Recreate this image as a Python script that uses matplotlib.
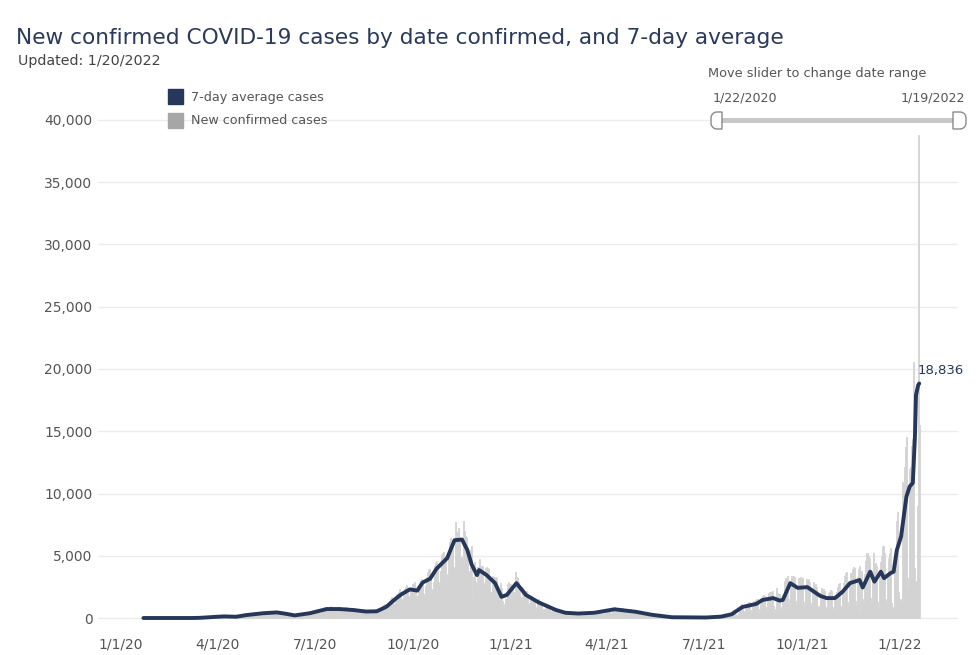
import numpy as np
import pandas as pd
import matplotlib
matplotlib.use("Agg")
import matplotlib.pyplot as plt
import matplotlib.dates as mdates
from matplotlib.patches import Rectangle, PathPatch
from matplotlib.path import Path

NAVY = "#263759"
BAR_GREY = "#d3d3d3"
LEGEND_GREY = "#a6a6a6"
TEXT_GREY = "#555555"

# Daily new confirmed cases, one row per week (Wed..Tue), starting 1/22/2020
start_date = "2020-01-22"
daily_cases = [
    [0, 0, 0, 0, 0, 0, 0], [0, 0, 0, 0, 0, 0, 0], [0, 1, 0, 0, 0, 0, 0],
    [0, 0, 0, 0, 0, 0, 0], [0, 0, 0, 0, 0, 0, 0], [0, 0, 0, 0, 0, 0, 0],
    [0, 0, 1, 0, 0, 2, 1], [2, 3, 8, 6, 5, 14, 25],
    [34, 49, 72, 42, 38, 60, 78], [95, 88, 107, 84, 62, 70, 127],
    [135, 150, 152, 127, 89, 80, 123], [110, 118, 160, 104, 77, 76, 117],
    [107, 104, 126, 107, 85, 80, 145], [215, 203, 320, 225, 170, 186, 217],
    [270, 298, 310, 327, 213, 248, 285], [346, 331, 388, 357, 298, 257, 368],
    [408, 384, 466, 375, 302, 295, 398], [460, 520, 488, 433, 334, 287, 380],
    [444, 496, 510, 397, 296, 276, 378], [348, 362, 345, 286, 207, 212, 300],
    [270, 248, 240, 196, 166, 160, 233], [262, 283, 306, 250, 190, 198, 301],
    [393, 415, 443, 385, 310, 322, 437], [510, 588, 622, 540, 401, 404, 553],
    [712, 754, 888, 704, 563, 575, 728], [856, 940, 892, 730, 555, 570, 840],
    [812, 920, 836, 740, 543, 562, 770], [780, 875, 855, 681, 523, 548, 720],
    [723, 840, 786, 606, 502, 512, 610], [650, 706, 650, 540, 448, 452, 572],
    [580, 632, 620, 512, 418, 408, 530], [640, 705, 722, 608, 520, 568, 720],
    [950, 1050, 1100, 860, 720, 690, 860],
    [1350, 1500, 1650, 1400, 1150, 1150, 1450],
    [1900, 2100, 2300, 1850, 1550, 1450, 1900],
    [2300, 2500, 2650, 2200, 1750, 1700, 2300],
    [2400, 2700, 2900, 2400, 1800, 1700, 2350],
    [2700, 3000, 3100, 2800, 1950, 1900, 2600],
    [3300, 3700, 3900, 3300, 2300, 2100, 2900],
    [4200, 4400, 4600, 4000, 2800, 2900, 3800],
    [5100, 5200, 5300, 4900, 3300, 3500, 5000],
    [6100, 6400, 6300, 5800, 4100, 4000, 7700],
    [6900, 6800, 7200, 6500, 4900, 4700, 7800],
    [7000, 6600, 6500, 5600, 3600, 3800, 5500],
    [5800, 1500, 3300, 4500, 2900, 2600, 4100],
    [4700, 4200, 4100, 4200, 2800, 2600, 4000],
    [4100, 4000, 3900, 3300, 2100, 2100, 3400],
    [3300, 3300, 3200, 2600, 1700, 1400, 2800],
    [2400, 1400, 600, 1100, 1500, 1500, 2700],
    [2900, 2700, 1500, 2500, 2100, 1900, 3700],
    [3300, 3200, 2900, 2600, 1700, 1500, 2500],
    [2300, 2100, 2200, 1800, 1200, 1000, 1700],
    [1800, 1700, 1600, 1300, 900, 800, 1400],
    [1500, 1400, 1300, 1100, 700, 600, 1100],
    [1100, 1050, 1000, 850, 550, 500, 900],
    [800, 780, 700, 620, 400, 380, 650], [560, 530, 500, 440, 300, 280, 430],
    [470, 460, 440, 390, 260, 250, 400], [430, 440, 420, 380, 250, 240, 380],
    [450, 470, 460, 400, 270, 260, 400], [500, 520, 510, 450, 300, 290, 420],
    [590, 620, 600, 530, 360, 350, 500], [720, 740, 720, 640, 420, 400, 580],
    [820, 860, 840, 700, 500, 460, 700], [780, 800, 780, 660, 480, 430, 620],
    [700, 720, 690, 600, 420, 380, 560], [600, 610, 580, 500, 340, 320, 460],
    [480, 480, 460, 400, 270, 250, 380], [350, 340, 330, 280, 190, 180, 270],
    [230, 220, 210, 180, 120, 110, 170], [130, 140, 110, 100, 60, 50, 80],
    [80, 75, 70, 60, 40, 35, 60], [65, 60, 58, 50, 30, 28, 50],
    [50, 52, 48, 40, 25, 22, 45], [52, 50, 46, 38, 24, 22, 48],
    [60, 58, 50, 30, 20, 25, 75], [90, 85, 80, 60, 40, 45, 90],
    [140, 150, 140, 90, 60, 75, 160], [300, 320, 310, 180, 120, 200, 360],
    [600, 650, 620, 350, 250, 420, 720],
    [1000, 1100, 1050, 550, 400, 750, 1150],
    [1200, 1300, 1250, 650, 450, 900, 1350],
    [1450, 1500, 1500, 750, 550, 1100, 1600],
    [1800, 1850, 1800, 900, 650, 1400, 2000],
    [2100, 2100, 2150, 1000, 700, 700, 2400],
    [2000, 1950, 1900, 900, 650, 1400, 1900],
    [3000, 3200, 3400, 1500, 1100, 2800, 3400],
    [3300, 3400, 3300, 1400, 1000, 2500, 3200],
    [3100, 3300, 3200, 1300, 900, 2600, 3100],
    [3000, 3100, 2900, 1200, 850, 2400, 2900],
    [2600, 2700, 2500, 1000, 700, 2000, 2400],
    [2200, 2300, 2200, 900, 650, 1700, 2000],
    [2100, 2250, 2200, 850, 600, 1600, 2100],
    [2500, 2700, 2800, 1000, 700, 2200, 2800],
    [3400, 3600, 3700, 1300, 900, 2900, 3600],
    [3900, 4100, 4000, 1400, 1000, 3300, 3900],
    [4200, 600, 3800, 1500, 1100, 3500, 4600],
    [5200, 5000, 4800, 1600, 1200, 3800, 5200],
    [4300, 4400, 4200, 1300, 900, 3300, 4500],
    [5000, 5800, 5200, 1500, 1000, 3600, 4800],
    [5200, 5600, 1200, 900, 800, 4100, 5400],
    [7800, 8500, 2100, 1500, 1200, 10900, 10800],
    [12100, 13700, 14500, 3200, 2500, 12000, 12100],
    [13800, 14400, 20600, 4000, 3000, 9000, 38800],
    [15500],
]

# 7-day average, read at the turning points of the line
avg_dates = [
    "2020-01-22", "2020-03-08", "2020-03-15", "2020-03-22", "2020-03-31",
    "2020-04-07", "2020-04-18", "2020-04-27", "2020-05-13", "2020-05-26",
    "2020-06-03", "2020-06-12", "2020-06-26", "2020-07-12", "2020-07-24",
    "2020-08-06", "2020-08-18", "2020-08-28", "2020-09-06", "2020-09-14",
    "2020-09-20", "2020-09-28", "2020-10-05", "2020-10-10", "2020-10-17",
    "2020-10-23", "2020-11-02", "2020-11-09", "2020-11-16", "2020-11-21",
    "2020-11-25", "2020-11-30", "2020-12-02", "2020-12-09", "2020-12-17",
    "2020-12-23", "2020-12-28", "2021-01-06", "2021-01-15", "2021-01-27",
    "2021-02-12", "2021-02-21", "2021-03-05", "2021-03-20", "2021-04-08",
    "2021-04-28", "2021-05-13", "2021-06-01", "2021-07-03", "2021-07-17",
    "2021-07-27", "2021-08-06", "2021-08-19", "2021-08-25", "2021-09-04",
    "2021-09-10", "2021-09-13", "2021-09-20", "2021-09-27", "2021-10-06",
    "2021-10-18", "2021-10-24", "2021-11-01", "2021-11-08", "2021-11-15",
    "2021-11-24", "2021-11-27", "2021-12-04", "2021-12-08", "2021-12-14",
    "2021-12-17", "2021-12-23", "2021-12-26", "2021-12-29", "2022-01-02",
    "2022-01-07", "2022-01-10", "2022-01-13", "2022-01-15", "2022-01-16",
    "2022-01-18", "2022-01-19",
]
avg_values = [
    0, 0, 15, 50, 100,
    130, 100, 230, 380, 450,
    350, 210, 380, 720, 720,
    640, 520, 540, 900, 1500,
    1900, 2300, 2200, 2850, 3150,
    3950, 4800, 6250, 6300, 5450,
    4300, 3450, 3850, 3450, 2800,
    1700, 1850, 2800, 1850, 1250,
    650, 420, 360, 420, 700,
    500, 260, 60, 40, 110,
    300, 880, 1130, 1450, 1600,
    1400, 1450, 2800, 2420, 2480,
    1780, 1600, 1600, 2100, 2800,
    3050, 2450, 3720, 2920, 3720,
    3200, 3600, 3720, 5450, 6550,
    9750, 10550, 10850, 14600, 17900,
    18700, 18836,
]

x_tick_dates = ["2020-01-01", "2020-04-01", "2020-07-01", "2020-10-01",
                "2021-01-01", "2021-04-01", "2021-07-01", "2021-10-01",
                "2022-01-01"]
x_tick_labels = ["1/1/20", "4/1/20", "7/1/20", "10/1/20", "1/1/21",
                 "4/1/21", "7/1/21", "10/1/21", "1/1/22"]
y_ticks = [0, 5000, 10000, 15000, 20000, 25000, 30000, 35000, 40000]

plt.rcParams["font.family"] = ["DejaVu Sans"]

cases = np.concatenate([np.array(r, dtype=float) for r in daily_cases])
case_dates = pd.date_range(start_date, periods=len(cases), freq="D")

fig = plt.figure(figsize=(9.8, 6.55), dpi=100)
ax = fig.add_axes([98 / 980, 30 / 655, 860 / 980, 510 / 655])

# thin edge in the same colour closes the sub-pixel gaps between daily bars
ax.bar(case_dates, cases, width=1.0, color=BAR_GREY, edgecolor=BAR_GREY,
       linewidth=0.6, zorder=2)
ax.plot(pd.to_datetime(avg_dates), avg_values, color=NAVY, linewidth=2.8,
        solid_joinstyle="round", solid_capstyle="round", zorder=3)

ax.annotate(f"{avg_values[-1]:,}", xy=(pd.Timestamp(avg_dates[-1]), avg_values[-1]),
            xytext=(-2, 13), textcoords="offset pixels", ha="left", va="center",
            fontsize=9.5, color=NAVY)

day0 = mdates.date2num(pd.Timestamp("2020-01-01"))
ax.set_xlim(day0 - 21.6, day0 + 785.4)
ax.set_ylim(-562, 40401)
ax.set_xticks(pd.to_datetime(x_tick_dates))
ax.set_xticklabels(x_tick_labels)
ax.set_yticks(y_ticks)
ax.set_yticklabels([f"{v:,}" for v in y_ticks])
ax.tick_params(length=0, labelsize=10, colors=TEXT_GREY)
ax.tick_params(axis="y", pad=4)
ax.tick_params(axis="x", pad=9)
for s in ax.spines.values():
    s.set_visible(False)
ax.grid(axis="y", color="#ececec", linewidth=1, zorder=0)
ax.set_axisbelow(True)

# overlay in pixel coordinates for title, legend and slider
ov = fig.add_axes([0, 0, 1, 1])
ov.set_xlim(0, 980)
ov.set_ylim(655, 0)
ov.axis("off")

ov.text(16, 38, "New confirmed COVID-19 cases by date confirmed, and 7-day average",
        fontsize=15.6, color="#2b3a5a", va="center", ha="left")
ov.text(18, 61, "Updated: 1/20/2022", fontsize=10.3, color="#444444",
        va="center", ha="left")

ov.add_patch(Rectangle((168, 89), 15, 15, color=NAVY))
ov.add_patch(Rectangle((168, 113), 15, 15, color=LEGEND_GREY))
ov.text(191, 97, "7-day average cases", fontsize=9.2, color=TEXT_GREY, va="center")
ov.text(191, 121, "New confirmed cases", fontsize=9.2, color=TEXT_GREY, va="center")

ov.text(708, 73, "Move slider to change date range", fontsize=9.3,
        color=TEXT_GREY, va="center", ha="left")
ov.text(713, 98, "1/22/2020", fontsize=9.1, color=TEXT_GREY, va="center", ha="left")
ov.text(965, 98, "1/19/2022", fontsize=9.1, color=TEXT_GREY, va="center", ha="right")
ov.add_patch(Rectangle((718, 118), 240, 5, color="#c8c8c8", linewidth=0))


def d_handle(x_flat, x_round, y0, y1, r):
    # D-shaped slider handle, flat on one side and rounded on the other
    sgn = 1 if x_round < x_flat else -1
    cx = x_round + sgn * r
    verts = [(x_flat, y0), (cx, y0)]
    for a in np.linspace(-90, -180, 8) if sgn == 1 else np.linspace(-90, 0, 8):
        t = np.radians(a)
        verts.append((cx + r * np.cos(t), y0 + r + r * np.sin(t)))
    for a in np.linspace(180, 90, 8) if sgn == 1 else np.linspace(0, 90, 8):
        t = np.radians(a)
        verts.append((cx + r * np.cos(t), y1 - r + r * np.sin(t)))
    verts += [(x_flat, y1), (x_flat, y0)]
    codes = [Path.MOVETO] + [Path.LINETO] * (len(verts) - 2) + [Path.CLOSEPOLY]
    return PathPatch(Path(verts, codes), facecolor="white", edgecolor="#8a8a8a",
                     linewidth=1)


ov.add_patch(d_handle(722, 711, 112, 129, 6))
ov.add_patch(d_handle(953, 966, 112, 129, 6))

fig.savefig("out.png", dpi=100)
